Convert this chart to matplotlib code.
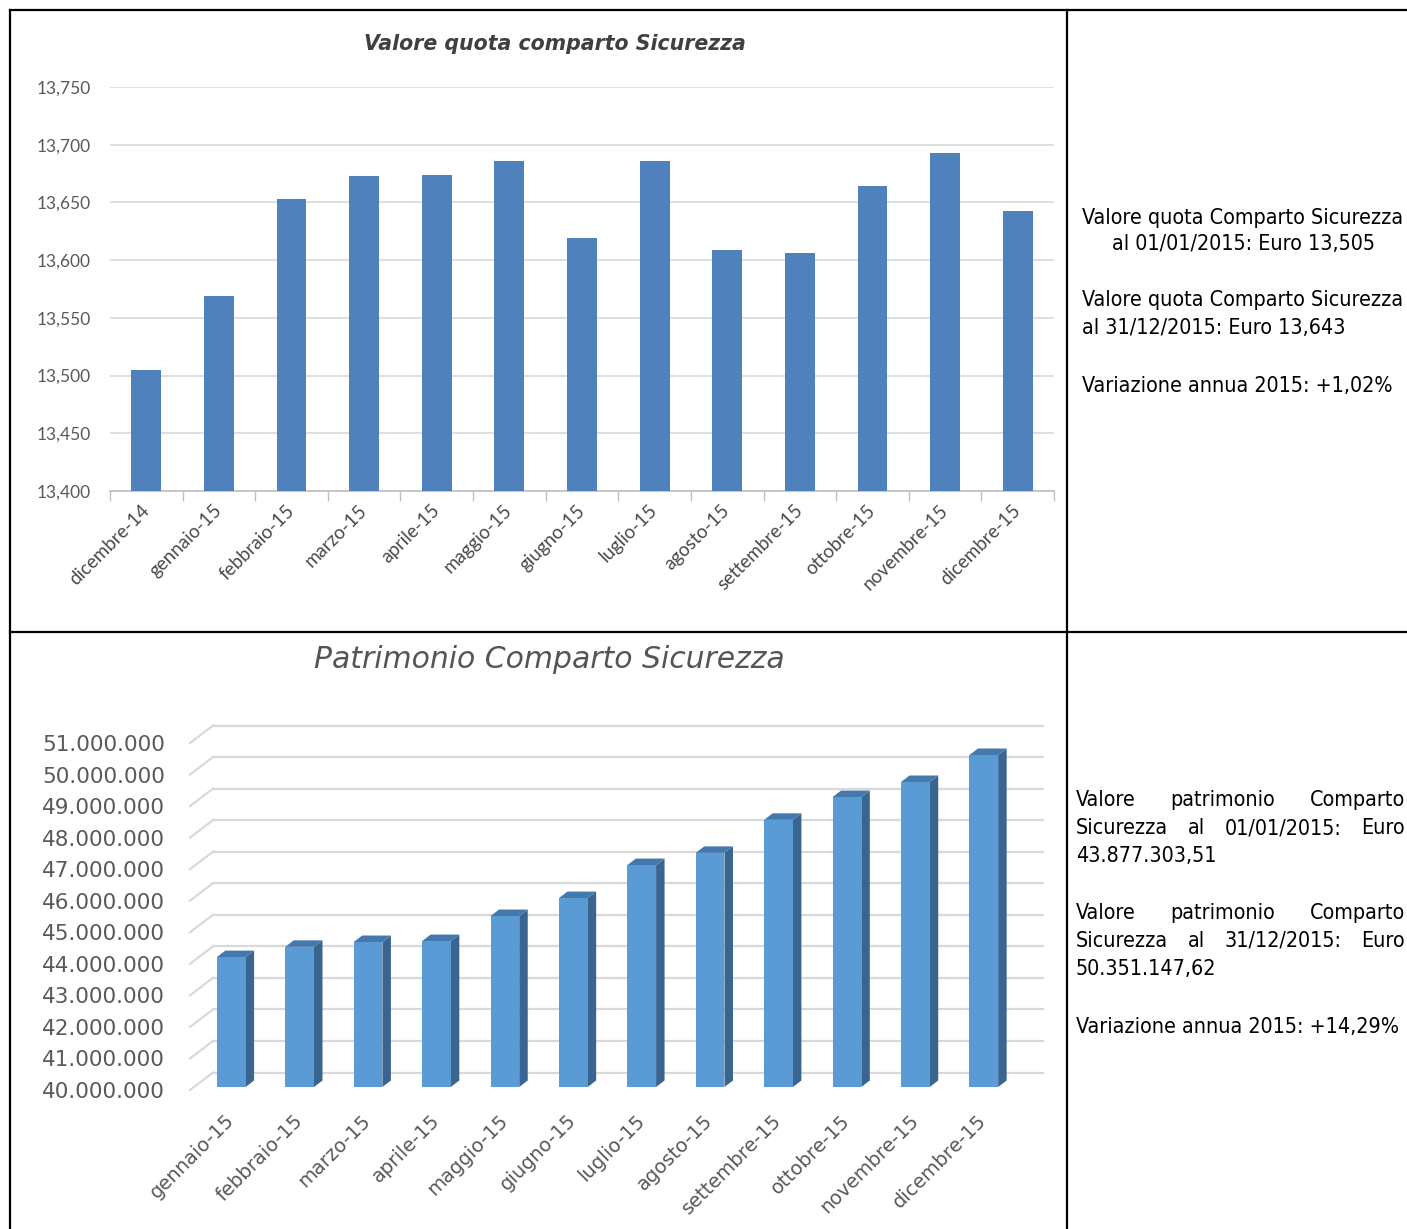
import matplotlib
matplotlib.use("Agg")
import matplotlib.pyplot as plt
from matplotlib.lines import Line2D
from matplotlib.patches import Rectangle, Polygon
from matplotlib.ticker import FuncFormatter

# valore quota mensile
mesi_quota = ["dicembre-14", "gennaio-15", "febbraio-15", "marzo-15", "aprile-15",
              "maggio-15", "giugno-15", "luglio-15", "agosto-15", "settembre-15",
              "ottobre-15", "novembre-15", "dicembre-15"]
quota = [13.505, 13.569, 13.653, 13.673, 13.674, 13.686, 13.619,
         13.686, 13.609, 13.606, 13.664, 13.693, 13.643]
quota_ticks = [13.40, 13.45, 13.50, 13.55, 13.60, 13.65, 13.70, 13.75]

# patrimonio mensile
mesi_patr = ["gennaio-15", "febbraio-15", "marzo-15", "aprile-15", "maggio-15",
             "giugno-15", "luglio-15", "agosto-15", "settembre-15", "ottobre-15",
             "novembre-15", "dicembre-15"]
patrimonio = [44050000, 44370000, 44520000, 44550000, 45330000, 45890000,
              46920000, 47300000, 48330000, 49040000, 49510000, 50351147.62]
patr_ticks = list(range(40000000, 51000001, 1000000))

testo_quota = ["Valore quota Comparto Sicurezza", "al 01/01/2015: Euro 13,505",
               "Valore quota Comparto Sicurezza", "al 31/12/2015: Euro 13,643",
               "Variazione annua 2015: +1,02%"]
testo_patr = [["Valore", "patrimonio", "Comparto"],
              ["Sicurezza", "al", "01/01/2015:", "Euro"],
              ["43.877.303,51"],
              ["Valore", "patrimonio", "Comparto"],
              ["Sicurezza", "al", "31/12/2015:", "Euro"],
              ["50.351.147,62"],
              ["Variazione annua 2015: +14,29%"]]

W, H = 1407, 1229
fig = plt.figure(figsize=(W / 100, H / 100), dpi=100)


def box(x0, y0, x1, y1):
    # rettangolo in pixel (origine in alto a sinistra) -> frazioni di figura
    return [x0 / W, 1 - y1 / H, (x1 - x0) / W, (y1 - y0) / H]


def fx(x):
    return x / W


def fy(y):
    return 1 - y / H


grigio = "#595959"

# ---- grafico valore quota ----
ax1 = fig.add_axes(box(110, 87, 1054, 491))
xs = range(len(quota))
ax1.bar(xs, [q - quota_ticks[0] for q in quota], bottom=quota_ticks[0],
        width=0.41, color="#4F81BD", zorder=3)
ax1.set_xlim(-0.5, len(quota) - 0.5)
ax1.set_ylim(quota_ticks[0], quota_ticks[-1])
ax1.set_yticks(quota_ticks)
ax1.yaxis.set_major_formatter(FuncFormatter(lambda v, p: f"{v:.3f}".replace(".", ",")))
ax1.grid(axis="y", color="#D9D9D9", lw=1.2, zorder=0)
for s in ["top", "right", "left"]:
    ax1.spines[s].set_visible(False)
ax1.spines["bottom"].set_color("#BFBFBF")
ax1.spines["bottom"].set_linewidth(1.2)
ax1.tick_params(axis="y", length=0, pad=14, labelsize=12.5, labelcolor=grigio)
ax1.set_xticks(list(xs))
ax1.set_xticklabels(mesi_quota, rotation=45, ha="right", va="center",
                    rotation_mode="anchor", fontsize=13.5, color="#4a4a4a")
ax1.tick_params(axis="x", length=0, pad=12)
ax1.set_xticks([i - 0.5 for i in range(len(quota) + 1)], minor=True)
ax1.tick_params(axis="x", which="minor", length=7, color="#BFBFBF", width=1)
for lab in ax1.get_xticklabels() + ax1.get_yticklabels():
    lab.set_family("Lato")
fig.text(fx(555), fy(44), "Valore quota comparto Sicurezza", ha="center", va="center",
         fontsize=14.8, fontweight="bold", fontstyle="italic", family="DejaVu Sans",
         color="#404040")

# ---- grafico patrimonio (colonne 3D) ----
ax_wall = fig.add_axes(box(190, 743, 1020, 1090))
ax_wall.set_xlim(0, 1)
ax_wall.set_ylim(patr_ticks[0], patr_ticks[-1])
ax_wall.patch.set_visible(False)
for s in ax_wall.spines.values():
    s.set_visible(False)
ax_wall.set_xticks([])
ax_wall.set_yticks(patr_ticks)
ax_wall.yaxis.set_major_formatter(FuncFormatter(lambda v, p: f"{int(v):,}".replace(",", ".")))
ax_wall.tick_params(axis="y", length=0, pad=18, labelsize=15.5, labelcolor=grigio)

# profondita' del pavimento in pixel, convertita in unita' dati
bb = ax_wall.get_position()
px_x = bb.width * W
px_y = bb.height * H
dx_w = 23 / px_x
dy_w = 17.5 / px_y * (patr_ticks[-1] - patr_ticks[0])
for v in patr_ticks:
    ax_wall.plot([0, dx_w], [v, v + dy_w], color="#D9D9D9", lw=1.6, clip_on=False)
    ax_wall.plot([dx_w, 1 + dx_w], [v + dy_w, v + dy_w], color="#D9D9D9", lw=1.6,
                 clip_on=False)

ax2 = fig.add_axes(box(197, 734.2, 1018, 1087))
ax2.set_xlim(-0.5, len(patrimonio) - 0.5)
ax2.set_ylim(patr_ticks[0], patr_ticks[-1])
ax2.patch.set_visible(False)
for s in ax2.spines.values():
    s.set_visible(False)
ax2.set_yticks([])
ax2.set_xticks(range(len(patrimonio)))
ax2.set_xticklabels(mesi_patr, rotation=45, ha="right", va="center",
                    rotation_mode="anchor", fontsize=14, color=grigio)
ax2.tick_params(axis="x", length=0, pad=22)

bb2 = ax2.get_position()
cat_px = bb2.width * W / len(patrimonio)
unit_px = bb2.height * H / (patr_ticks[-1] - patr_ticks[0])
ddx = 8.5 / cat_px
ddy = 6.5 / unit_px
w = 0.42
y0 = patr_ticks[0]
for i, v in enumerate(patrimonio):
    xl, xr = i - w / 2, i + w / 2
    ax2.add_patch(Polygon([(xr, y0), (xr + ddx, y0 + ddy), (xr + ddx, v + ddy), (xr, v)],
                          closed=True, fc="#3B6591", ec="none", clip_on=False))
    ax2.add_patch(Polygon([(xl, v), (xl + ddx, v + ddy), (xr + ddx, v + ddy), (xr, v)],
                          closed=True, fc="#4579AD", ec="none", clip_on=False))
    ax2.add_patch(Rectangle((xl, y0), w, v - y0, fc="#5B9BD5", ec="none",
                            clip_on=False))
fig.text(fx(549), fy(660), "Patrimonio Comparto Sicurezza", ha="center", va="center",
         fontsize=21.5, fontstyle="italic", color="#555555")

# ---- testi a destra ----
font_txt = dict(fontsize=15.4, family="DejaVu Sans", fontstretch="condensed", color="black")
fig.text(fx(1243), fy(218), testo_quota[0], ha="center", va="center", **font_txt)
fig.text(fx(1243), fy(244), testo_quota[1], ha="center", va="center", **font_txt)
fig.text(fx(1082), fy(300), testo_quota[2], ha="left", va="center", **font_txt)
fig.text(fx(1082), fy(328), testo_quota[3], ha="left", va="center", **font_txt)
fig.text(fx(1082), fy(386), testo_quota[4], ha="left", va="center", **font_txt)

renderer = fig.canvas.get_renderer()
righe_y = [800, 828, 856, 913, 941, 969, 1027]
x_sx, x_dx = 1076, 1405
for parole, y in zip(testo_patr, righe_y):
    if len(parole) == 1:
        fig.text(fx(x_sx), fy(y), parole[0], ha="left", va="center", **font_txt)
        continue
    # riga giustificata: spazi uguali tra le parole
    tt = [fig.text(0, fy(y), p, ha="left", va="center", **font_txt) for p in parole]
    larg = [t.get_window_extent(renderer).width for t in tt]
    gap = (x_dx - x_sx - sum(larg)) / (len(parole) - 1)
    x = x_sx
    for t, lw_ in zip(tt, larg):
        t.set_x(fx(x))
        x += lw_ + gap

# ---- bordi della tabella ----
for (xa, ya, xb, yb) in [(10, 10, 10, H), (10, 10, W, 10), (1067, 10, 1067, H),
                         (10, 632, W, 632)]:
    fig.add_artist(Line2D([fx(xa), fx(xb)], [fy(ya), fy(yb)], color="black", lw=1.6,
                          transform=fig.transFigure))

fig.savefig("out.png", dpi=100)
